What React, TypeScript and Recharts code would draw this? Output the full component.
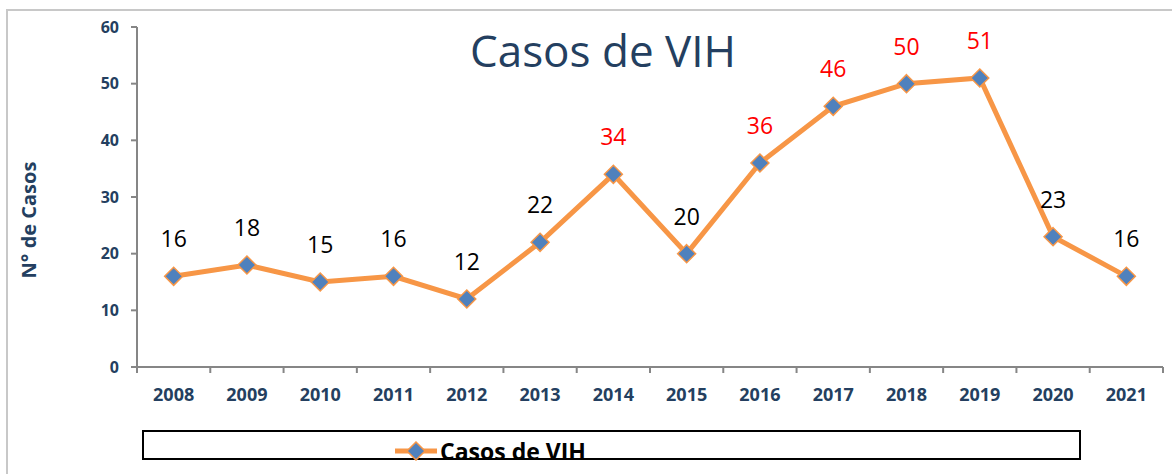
import React from 'react';
import { LineChart, Line, XAxis, YAxis, LabelList } from 'recharts';

const years = ['2008', '2009', '2010', '2011', '2012', '2013', '2014', '2015', '2016', '2017', '2018', '2019', '2020', '2021'];
const cases = [16, 18, 15, 16, 12, 22, 34, 20, 36, 46, 50, 51, 23, 16];
const yTicks = [0, 10, 20, 30, 40, 50, 60];
// values above this get the red label
const HIGHLIGHT_FROM = 30;

const NAVY = '#243F60';
const ORANGE = '#F79646';
const BLUE = '#4F81BD';
const AXIS = '#868686';
const FONT = "'Open Sans', sans-serif";

const data = years.map((year, i) => ({ year, cases: cases[i] }));

const Diamond = (props: any) => {
  const { cx, cy } = props;
  if (cx == null || cy == null) return null;
  const r = 9;
  return (
    <polygon
      points={`${cx},${cy - r} ${cx + r},${cy} ${cx},${cy + r} ${cx - r},${cy}`}
      fill={BLUE}
      stroke={ORANGE}
      strokeWidth={1.5}
    />
  );
};

const ValueLabel = (props: any) => {
  const { x, y, value } = props;
  return (
    <text
      x={x}
      y={y - 29}
      textAnchor="middle"
      fontSize={23}
      fontFamily={FONT}
      fill={value > HIGHLIGHT_FROM ? '#FF0000' : '#000000'}
    >
      {value}
    </text>
  );
};

// year label plus tick marks on the category boundaries (Excel style)
const YearTick = (props: any) => {
  const { x, y, payload, index, visibleTicksCount } = props;
  const half = payload.offset || 0;
  const last = index === visibleTicksCount - 1;
  return (
    <g>
      <line x1={x - half} y1={y} x2={x - half} y2={y + 6} stroke={AXIS} strokeWidth={2} />
      {last && <line x1={x + half} y1={y} x2={x + half} y2={y + 6} stroke={AXIS} strokeWidth={2} />}
      <text x={x} y={y + 34} textAnchor="middle" fontSize={18} fontWeight="bold" fontFamily={FONT} fill={NAVY}>
        {payload.value}
      </text>
    </g>
  );
};

const AxisTitle = (props: any) => {
  const { viewBox } = props;
  const cy = viewBox.y + viewBox.height / 2 + 23;
  const cx = 28;
  return (
    <text
      x={cx}
      y={cy}
      transform={`rotate(-90 ${cx} ${cy})`}
      textAnchor="middle"
      dominantBaseline="central"
      fontSize={20}
      fontWeight="bold"
      fontFamily={FONT}
      fill={NAVY}
    >
      N° de Casos
    </text>
  );
};

export default function App() {
  return (
    <div style={{ position: 'absolute', left: 0, top: 0, width: 1172, height: 474, overflow: 'hidden', background: '#fff', fontFamily: FONT }}>
      <div style={{ position: 'absolute', left: 6, top: 9, width: 1200, height: 500, borderLeft: '2px solid #C8C8C8', borderTop: '2px solid #C8C8C8' }} />
      <LineChart width={1172} height={474} data={data} margin={{ top: 27, right: 9, left: 77, bottom: 77 }}>
        <XAxis
          dataKey="year"
          scale="band"
          height={30}
          axisLine={{ stroke: AXIS, strokeWidth: 2 }}
          tickLine={false}
          tickSize={0}
          tickMargin={0}
          tick={<YearTick />}
          interval={0}
        />
        <YAxis
          domain={[0, 60]}
          ticks={yTicks}
          width={60}
          axisLine={{ stroke: AXIS, strokeWidth: 2 }}
          tickLine={{ stroke: AXIS, strokeWidth: 2 }}
          tickSize={6}
          tickMargin={12}
          tick={{ fill: NAVY, fontSize: 16, fontWeight: 'bold', fontFamily: FONT }}
          label={{ content: AxisTitle }}
        />
        <Line
          dataKey="cases"
          stroke={ORANGE}
          strokeWidth={5}
          dot={<Diamond />}
          activeDot={false}
          isAnimationActive={false}
        >
          <LabelList dataKey="cases" content={ValueLabel} />
        </Line>
      </LineChart>
      <div style={{ position: 'absolute', left: 0, top: 24, width: 1206, textAlign: 'center', fontSize: 44, color: NAVY, lineHeight: '52px' }}>
        Casos de VIH
      </div>
      <div style={{ position: 'absolute', left: 142, top: 430, width: 935, height: 26, border: '2px solid #000' }} />
      <div style={{ position: 'absolute', left: 395, top: 434, display: 'flex', alignItems: 'center', height: 34 }}>
        <svg width={42} height={20} style={{ marginRight: 3 }}>
          <line x1={0} y1={10} x2={42} y2={10} stroke={ORANGE} strokeWidth={5} />
          <polygon points="21,1 30,10 21,19 12,10" fill={BLUE} stroke={ORANGE} strokeWidth={1.5} />
        </svg>
        <span style={{ fontSize: 23, fontWeight: 'bold', color: '#000', lineHeight: '34px' }}>Casos de VIH</span>
      </div>
    </div>
  );
}
